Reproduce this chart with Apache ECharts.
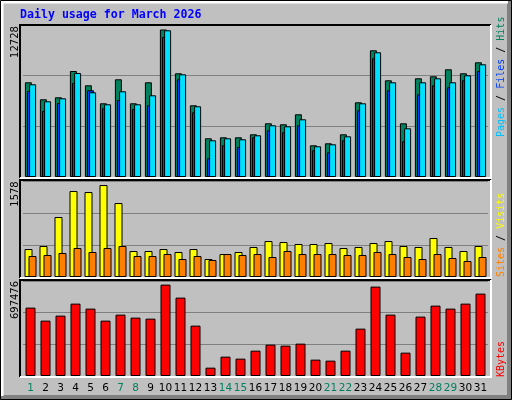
<!DOCTYPE html>
<html><head><meta charset="utf-8">
<script src="https://cdn.jsdelivr.net/npm/echarts@6/dist/echarts.min.js"></script>
<style>html,body{margin:0;padding:0;background:#c0c0c0}#c{width:512px;height:400px}</style>
</head><body><div id="c"></div>
<script>
const days = ['1','2','3','4','5','6','7','8','9','10','11','12','13','14','15','16','17','18','19','20','21','22','23','24','25','26','27','28','29','30','31'];
const weekendDays = ['1','7','8','14','15','21','22','28','29'];
const hits  = [8172,6705,6878,9148,7914,6360,8431,6360,8172,12728,8949,6188,3340,3426,3426,3685,4634,4548,5411,2736,2908,3685,6446,10934,8345,4634,8517,8690,9294,8949,9898];
const files = [8000,6533,6791,8975,7310,6274,7396,6274,7050,12660,8862,6101,3167,3340,3253,3598,4461,4375,4979,2649,2822,3512,6360,10761,8172,4202,8172,8517,8172,8776,9726];
const pages = [7422,5696,6386,8112,7482,5929,6645,5868,6188,12081,8431,5583,1614,2736,2589,3426,4030,3857,4461,2304,2131,3167,5756,10243,7482,3081,7137,7914,7741,8345,9148];
const visits = [480,532,1029,1475,1458,1578,1269,446,446,480,429,480,309,394,429,515,617,600,566,566,583,497,515,583,617,532,515,669,515,446,532];
const sites  = [360,377,412,497,429,497,532,360,360,394,309,360,292,394,377,394,343,446,394,394,394,377,377,429,394,343,309,394,326,274,343];
const kbytes = [521838,422547,460736,552370,514190,422547,468372,445462,437826,697476,598190,384369,63637,147638,132365,193455,239275,231640,246912,124728,117092,193455,361460,682201,468372,178183,453099,537098,514190,552370,628734];
const maxLabels = ['12728','1578','697476'];

const chart = echarts.init(document.getElementById('c'), null, {renderer:'canvas'});
const grids = [
  {left:23, width:465, top:25, height:152},
  {left:23, width:465, top:181, height:96},
  {left:23, width:465, top:281, height:95}
];
const ymax = [13116, 1647, 724947];
const split = {show:true, lineStyle:{color:'#808080', width:1}};
const xAxes = grids.map((g,i)=>({
  type:'category', gridIndex:i, data:days,
  axisLine:{show:false}, axisTick:{show:false},
  axisLabel: i===2 ? {show:true, margin:7, fontFamily:'DejaVu Sans', fontSize:10.5, interval:0,
    formatter: v => weekendDays.includes(v) ? '{w|'+v+'}' : '{n|'+v+'}',
    rich:{w:{color:'#008060',fontSize:10.5,fontFamily:'DejaVu Sans'}, n:{color:'#000',fontSize:10.5,fontFamily:'DejaVu Sans'}}} : {show:false}
}));
const yAxes = grids.map((g,i)=>({
  type:'value', gridIndex:i, min:0, max:ymax[i], interval:ymax[i]/3,
  axisLine:{show:false}, axisTick:{show:false}, axisLabel:{show:false}, splitLine:split
}));
const bs = {borderColor:'#000', borderWidth:1};
function frame(x1,y1,x2,y2){
  return [
    {type:'polyline', shape:{points:[[x1,y2],[x1,y1],[x2,y1]]}, style:{stroke:'#000',lineWidth:2,fill:null}, z:100},
    {type:'polyline', shape:{points:[[x2,y1],[x2,y2],[x1,y2]]}, style:{stroke:'#fff',lineWidth:2,fill:null}, z:100}
  ];
}
const rot = Math.PI/2;
const graphics = [
  {type:'rect', shape:{x:507,y:0,width:5,height:400}, style:{fill:'#808080'}, z:-1},
  {type:'rect', shape:{x:0,y:395,width:512,height:5}, style:{fill:'#808080'}, z:-1},
  {type:'polyline', shape:{points:[[2,396],[2,2],[508,2]]}, style:{stroke:'#fff',lineWidth:3,fill:null}, z:99},
  {type:'rect', shape:{x:0.5,y:0.5,width:511,height:399}, style:{stroke:'#000',lineWidth:1,fill:null}, z:101},
  ...frame(20,25,491,178),
  ...frame(20,180,491,278),
  ...frame(20,280,491,377),
  {type:'text', x:20, y:15, style:{text:'Daily usage for March 2026', fill:'#0000ff', font:'bold 11.6px "DejaVu Sans Mono"', verticalAlign:'middle'}, z:100},
  {type:'text', x:15, y:42, rotation:rot, style:{text:maxLabels[0], fill:'#000', font:'10px "DejaVu Sans"', align:'center', verticalAlign:'middle'}, z:100},
  {type:'text', x:15, y:194, rotation:rot, style:{text:maxLabels[1], fill:'#000', font:'10px "DejaVu Sans"', align:'center', verticalAlign:'middle'}, z:100},
  {type:'text', x:15, y:300, rotation:rot, style:{text:maxLabels[2], fill:'#000', font:'10px "DejaVu Sans"', align:'center', verticalAlign:'middle'}, z:100},
  {type:'text', x:501, y:137, rotation:rot, style:{text:'{p|Pages} {s|/} {f|Files} {s|/} {h|Hits}', align:'left', verticalAlign:'middle',
     font:'10px "DejaVu Sans Mono"', rich:{p:{fill:'#00c0ff',font:'10px "DejaVu Sans Mono"'},f:{fill:'#0040ff',font:'10px "DejaVu Sans Mono"'},h:{fill:'#00805c',font:'10px "DejaVu Sans Mono"'},s:{fill:'#000',font:'10px "DejaVu Sans Mono"'}}}, z:100},
  {type:'text', x:501, y:277, rotation:rot, style:{text:'{o|Sites} {s|/} {y|Visits}', align:'left', verticalAlign:'middle',
     font:'10px "DejaVu Sans Mono"', rich:{o:{fill:'#ff8000',font:'10px "DejaVu Sans Mono"'},y:{fill:'#ffff00',font:'10px "DejaVu Sans Mono"'},s:{fill:'#000',font:'10px "DejaVu Sans Mono"'}}}, z:100},
  {type:'text', x:501, y:377, rotation:rot, style:{text:'KBytes', fill:'#ff0000', font:'10px "DejaVu Sans Mono"', align:'left', verticalAlign:'middle'}, z:100}
];
chart.setOption({
  animation:false,
  backgroundColor:'#c0c0c0',
  grid:grids, xAxis:xAxes, yAxis:yAxes,
  series:[
    {type:'bar', name:'Hits', xAxisIndex:0, yAxisIndex:0, data:hits, barWidth:7, barGap:'-70%', itemStyle:{color:'#00805c',...bs}},
    {type:'bar', name:'Pages', xAxisIndex:0, yAxisIndex:0, data:pages, barWidth:7, barGap:'-70%', itemStyle:{color:'#0040ff',...bs}},
    {type:'bar', name:'Files', xAxisIndex:0, yAxisIndex:0, data:files, barWidth:7, barGap:'-70%', itemStyle:{color:'#00e0ff',...bs}},
    {type:'bar', name:'Visits', xAxisIndex:1, yAxisIndex:1, data:visits, barWidth:8, barGap:'-50%', itemStyle:{color:'#ffff00',...bs}},
    {type:'bar', name:'Sites', xAxisIndex:1, yAxisIndex:1, data:sites, barWidth:8, barGap:'-50%', itemStyle:{color:'#ff8000',...bs}},
    {type:'bar', name:'KBytes', xAxisIndex:2, yAxisIndex:2, data:kbytes, barWidth:10, itemStyle:{color:'#ff0000',...bs}}
  ],
  graphic:graphics
});
</script></body></html>
